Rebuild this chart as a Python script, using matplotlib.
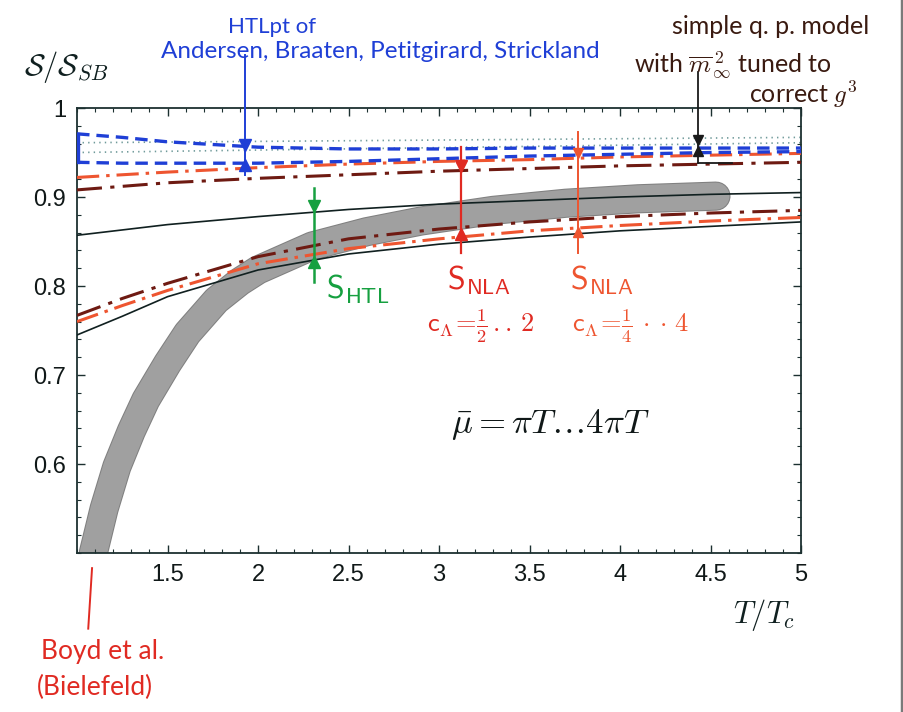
import matplotlib
matplotlib.use('Agg')
import matplotlib.pyplot as plt
import matplotlib.patheffects as pe
from matplotlib.ticker import MultipleLocator, FixedLocator

plt.rcParams['mathtext.fontset'] = 'cm'
plt.rcParams['lines.scale_dashes'] = False

T = [1.0, 1.25, 1.5, 2.0, 2.5, 3.0, 3.5, 4.0, 4.5, 5.0]

# HTLpt band (blue dashed)
htlpt_hi = [0.971, 0.967, 0.962, 0.956, 0.954, 0.954, 0.955, 0.955, 0.955, 0.955]
htlpt_lo = [0.939, 0.938, 0.938, 0.938, 0.940, 0.943, 0.946, 0.948, 0.950, 0.951]
# NLA, upper pair (dash-dot)
nla_up_orange = [0.922, 0.925, 0.928, 0.933, 0.937, 0.940, 0.942, 0.945, 0.947, 0.949]
nla_up_dark = [0.908, 0.912, 0.916, 0.921, 0.925, 0.929, 0.932, 0.935, 0.937, 0.939]
# HTL (thin solid)
htl_hi = [0.857, 0.863, 0.869, 0.878, 0.886, 0.892, 0.896, 0.900, 0.903, 0.905]
htl_lo = [0.745, 0.766, 0.788, 0.818, 0.836, 0.847, 0.855, 0.862, 0.867, 0.872]
# NLA, lower pair (dash-dot)
nla_lo_dark = [0.767, 0.786, 0.803, 0.833, 0.853, 0.864, 0.872, 0.878, 0.882, 0.885]
nla_lo_orange = [0.760, 0.778, 0.795, 0.825, 0.842, 0.853, 0.862, 0.868, 0.873, 0.877]

# dotted reference lines
T_dot = [1.0, 5.0]
dot_a = [0.961, 0.967]
dot_b = [0.950, 0.961]

# lattice band (Boyd et al.), centre line
T_lat = [1.09, 1.15, 1.22, 1.30, 1.38, 1.50, 1.61, 1.77, 1.90, 2.0, 2.3, 2.6, 2.9, 3.3, 3.7, 4.1, 4.53]
s_lat = [0.50, 0.550, 0.597, 0.637, 0.672, 0.713, 0.747, 0.784, 0.805, 0.818, 0.845, 0.861,
         0.873, 0.885, 0.893, 0.898, 0.901]

xticks = [1.5, 2, 2.5, 3, 3.5, 4, 4.5, 5]
xtick_labels = ['1.5', '2', '2.5', '3', '3.5', '4', '4.5', '5']
yticks = [0.6, 0.7, 0.8, 0.9, 1.0]
ytick_labels = ['0.6', '0.7', '0.8', '0.9', '1']

blue = '#1f3fd6'
dark = '#6e1a12'
orange = '#ee5530'
red = '#e02a22'
green = '#16a040'
brown = '#3a1a10'
axc = '#1c3030'

fig = plt.figure(figsize=(9.04, 7.12), dpi=100)
ax = fig.add_axes([0.0852, 0.2233, 0.8009, 0.625])
ax.set_xlim(1, 5)
ax.set_ylim(0.5, 1.0)

# lattice band as a thick round-capped stroke
ax.plot(T_lat, s_lat, color='#a0a0a0', lw=19.5, solid_capstyle='round',
        solid_joinstyle='round', zorder=1,
        path_effects=[pe.Stroke(linewidth=21, foreground='#808080'), pe.Normal()])

ax.plot(T_dot, dot_a, color='#6f9a9a', lw=1.2, ls=(0, (1, 3)), zorder=2)
ax.plot(T_dot, dot_b, color='#6f9a9a', lw=1.2, ls=(0, (1, 3)), zorder=2)

ax.plot(T, htl_hi, color='#102020', lw=1.2, zorder=3)
ax.plot(T, htl_lo, color='#102020', lw=1.2, zorder=3)

dd = (0, (16, 5, 2.5, 5))
ax.plot(T, nla_up_orange, color=orange, lw=2.2, ls=dd, zorder=3)
ax.plot(T, nla_up_dark, color=dark, lw=2.2, ls=(0, (18, 6, 3, 6)), zorder=3)
ax.plot(T, nla_lo_dark, color=dark, lw=2.2, ls=(0, (18, 6, 3, 6)), zorder=3)
ax.plot(T, nla_lo_orange, color=orange, lw=2.2, ls=dd, zorder=3)

ax.plot(T, htlpt_hi, color=blue, lw=2.4, ls=(0, (9, 5)), zorder=4)
ax.plot(T, htlpt_lo, color=blue, lw=2.4, ls=(0, (9, 5)), zorder=4)
ax.plot([1.006, 1.006], [htlpt_hi[0], htlpt_lo[0]], color=blue, lw=2.4, zorder=4)

# ---- hand-drawn style annotations ----
# HTLpt arrow
ax.plot([1.928, 1.928], [1.06, 0.925], color=blue, lw=1.4, clip_on=False, zorder=5)
ax.plot([1.928], [0.958], marker='v', color=blue, ms=8, zorder=5)
ax.plot([1.928], [0.936], marker='^', color=blue, ms=8, zorder=5)

# q.p. model pointer
ax.plot([4.43, 4.43], [1.04, 0.938], color='#1a1a1a', lw=1.3, clip_on=False, zorder=5)
ax.plot([4.43, 4.62], [0.938, 0.938], color='#1a1a1a', lw=1.3, zorder=5)
ax.plot([4.43], [0.964], marker='v', color='#1a1a1a', ms=7, zorder=5)
ax.plot([4.43], [0.952], marker='^', color='#1a1a1a', ms=7, zorder=5)

# S_HTL
ax.plot([2.31, 2.31], [0.910, 0.804], color=green, lw=1.8, zorder=5)
ax.plot([2.31], [0.890], marker='v', color=green, ms=8, zorder=5)
ax.plot([2.31], [0.827], marker='^', color=green, ms=8, zorder=5)

# S_NLA (c = 1/2..2)
ax.plot([3.12, 3.12], [0.956, 0.837], color=red, lw=1.6, zorder=5)
ax.plot([3.12], [0.935], marker='v', color=red, ms=9, zorder=5)
ax.plot([3.12], [0.858], marker='^', color=red, ms=8, zorder=5)

# S_NLA (c = 1/4..4)
ax.plot([3.77, 3.77], [0.973, 0.837], color=orange, lw=1.4, zorder=5)
ax.plot([3.77], [0.950], marker='v', color=orange, ms=7, zorder=5)
ax.plot([3.77], [0.861], marker='^', color=orange, ms=7, zorder=5)

# Boyd et al. pointer
ax.plot([1.083, 1.062], [0.483, 0.415], color=red, lw=1.4, clip_on=False)

hand = 'Lato'
fig.text(272, 685, 'HTLpt of', transform=None, color=blue, fontsize=16,
         family=hand, ha='center', va='center')
fig.text(380, 660, 'Andersen, Braaten, Petitgirard, Strickland', transform=None,
         color=blue, fontsize=17.5, family=hand, ha='center', va='center')
fig.text(771, 685, 'simple q. p. model', transform=None, color=brown, fontsize=18,
         family=hand, ha='center', va='center')
fig.text(733, 647, r'with $\overline{m}^{\,2}_{\infty}$ tuned to', transform=None,
         color=brown, fontsize=18, family=hand, ha='center', va='center')
fig.text(803, 617, r'correct $g^3$', transform=None, color=brown, fontsize=18,
         family=hand, ha='center', va='center')

fig.text(358, 423, r'$\mathsf{S}_{\mathsf{HTL}}$', transform=None, color=green,
         fontsize=23, ha='center', va='center')
fig.text(479, 432, r'$\mathsf{S}_{\mathsf{NLA}}$', transform=None, color=red,
         fontsize=23, ha='center', va='center')
fig.text(481, 386, r'$\mathsf{c}_{\Lambda}\!=\!\frac{1}{2}\,..\,2$', transform=None,
         color=red, fontsize=19, ha='center', va='center')
fig.text(602, 432, r'$\mathsf{S}_{\mathsf{NLA}}$', transform=None, color=orange,
         fontsize=23, ha='center', va='center')
fig.text(631, 386, r'$\mathsf{c}_{\Lambda}\!=\!\frac{1}{4}\,\cdot\cdot\,4$', transform=None,
         color=orange, fontsize=19, ha='center', va='center')
fig.text(550, 287, r'$\bar{\mu} = \pi T \ldots 4\pi T$', transform=None, color='#101818',
         fontsize=25, ha='center', va='center')
fig.text(103, 60, 'Boyd et al.', transform=None, color=red, fontsize=19,
         family=hand, ha='center', va='center')
fig.text(95, 25, '(Bielefeld)', transform=None, color=red, fontsize=19,
         family=hand, ha='center', va='center')

# axis labels
fig.text(66, 645, r'$\mathcal{S}/\mathcal{S}_{SB}$', transform=None, color='#102020',
         fontsize=22, ha='center', va='center')
fig.text(764, 97, r'$T/T_c$', transform=None, color='#102020',
         fontsize=22, ha='center', va='center')

# axes styling
ax.xaxis.set_major_locator(FixedLocator(xticks))
ax.set_xticklabels(xtick_labels)
ax.yaxis.set_major_locator(FixedLocator(yticks))
ax.set_yticklabels(ytick_labels)
ax.xaxis.set_minor_locator(MultipleLocator(0.1))
ax.yaxis.set_minor_locator(MultipleLocator(0.02))
ax.tick_params(which='both', direction='in', top=True, right=True, color=axc,
               labelcolor='#101818', labelsize=17)
ax.tick_params(which='major', length=6, width=1.0, pad=8)
ax.tick_params(which='minor', length=3, width=0.8)
for lab in ax.get_xticklabels() + ax.get_yticklabels():
    lab.set_family('Liberation Sans')
for sp in ax.spines.values():
    sp.set_color(axc)
    sp.set_linewidth(1.3)

# scanned page edge
fig.add_artist(plt.Line2D([902.5 / 904, 902.5 / 904], [0, 1], color='#7a7a7a', lw=2.5))

fig.savefig('out.png', dpi=100, facecolor='white')
